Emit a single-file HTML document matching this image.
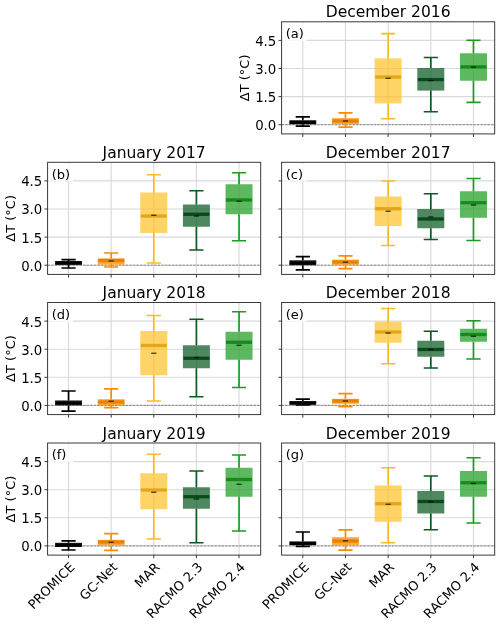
<!DOCTYPE html>
<html lang="en"><head><meta charset="utf-8"><title>Box plots</title>
<style>html,body{margin:0;padding:0;background:#fff}svg{display:block;filter:blur(0.3px)}</style></head>
<body>
<svg width="500" height="624" viewBox="0 0 500 624" font-family='"DejaVu Sans", "Liberation Sans", sans-serif'>
<rect width="500" height="624" fill="#ffffff"/>
<g>
<path d="M302.8 21.8V133.9M345.47 21.8V133.9M388.14 21.8V133.9M430.81 21.8V133.9M473.48 21.8V133.9M281.6 124.7H494.7M281.6 96.61H494.7M281.6 68.51H494.7M281.6 40.42H494.7" stroke="#b0b0b0" stroke-opacity="0.48" stroke-width="1.1" fill="none"/>
<path d="M281.6 124.7H494.7" stroke="#6e6e6e" stroke-width="0.8" stroke-dasharray="2.5 1.05" fill="none"/>
<rect x="289.3" y="120.3" width="27" height="4" fill="#000000" fill-opacity="0.8"/>
<path d="M302.8 120.3V116.8M302.8 124.3V126.1M295.7 116.8H309.9M295.7 126.1H309.9" stroke="#000000" stroke-width="1.7" fill="none"/>
<path d="M289.8 122.3H315.8" stroke="#000000" stroke-width="3.3" fill="none"/>
<path d="M300.2 122.3H305.4" stroke="#000" stroke-opacity="0.75" stroke-width="1.25" fill="none"/>
<rect x="331.97" y="118.1" width="27" height="5.9" fill="#FF8C00" fill-opacity="0.74"/>
<path d="M345.47 118.1V112.8M345.47 124V127.2M338.37 112.8H352.57M338.37 127.2H352.57" stroke="#FF8C00" stroke-width="1.7" fill="none"/>
<path d="M332.47 121H358.47" stroke="#E88200" stroke-width="3.3" fill="none"/>
<path d="M342.87 121H348.07" stroke="#000" stroke-opacity="0.75" stroke-width="1.25" fill="none"/>
<rect x="374.64" y="58.4" width="27" height="45" fill="#FFC023" fill-opacity="0.7"/>
<path d="M388.14 58.4V33.6M388.14 103.4V118.75M381.04 33.6H395.24M381.04 118.75H395.24" stroke="#FEBA25" stroke-width="1.7" fill="none"/>
<path d="M375.14 77H401.14" stroke="#E3A81A" stroke-width="3.3" fill="none"/>
<path d="M385.54 78.25H390.74" stroke="#000" stroke-opacity="0.75" stroke-width="1.25" fill="none"/>
<rect x="417.31" y="68" width="27" height="22.6" fill="#0B5A22" fill-opacity="0.72"/>
<path d="M430.81 68V57.5M430.81 90.6V111.75M423.71 57.5H437.91M423.71 111.75H437.91" stroke="#0B5A22" stroke-width="1.7" fill="none"/>
<path d="M417.81 79.6H443.81" stroke="#084A1A" stroke-width="3.3" fill="none"/>
<path d="M428.21 80.5H433.41" stroke="#000" stroke-opacity="0.75" stroke-width="1.25" fill="none"/>
<rect x="459.98" y="53.25" width="27" height="27.5" fill="#23A127" fill-opacity="0.74"/>
<path d="M473.48 53.25V40.25M473.48 80.75V102.3M466.38 40.25H480.58M466.38 102.3H480.58" stroke="#1F9A22" stroke-width="1.7" fill="none"/>
<path d="M460.48 66.9H486.48" stroke="#178A1B" stroke-width="3.3" fill="none"/>
<path d="M470.88 67.1H476.08" stroke="#000" stroke-opacity="0.75" stroke-width="1.25" fill="none"/>
<rect x="282.4" y="23.2" width="24.8" height="17.9" fill="#fff" fill-opacity="0.8"/>
<text x="285.7" y="38.2" font-size="13" fill="#000">(a)</text>
<rect x="281.6" y="21.8" width="213.1" height="112.1" fill="none" stroke="#303030" stroke-width="0.95"/>
<path d="M302.8 133.9v3.1M345.47 133.9v3.1M388.14 133.9v3.1M430.81 133.9v3.1M473.48 133.9v3.1M281.6 124.7h-3.1M281.6 96.61h-3.1M281.6 68.51h-3.1M281.6 40.42h-3.1" stroke="#303030" stroke-width="0.95" fill="none"/>
<text x="388.15" y="17.4" font-size="15.5" text-anchor="middle" fill="#000">December 2016</text>
<text x="276.3" y="130.1" font-size="13.3" text-anchor="end" fill="#000">0.0</text>
<text x="276.3" y="102.01" font-size="13.3" text-anchor="end" fill="#000">1.5</text>
<text x="276.3" y="73.91" font-size="13.3" text-anchor="end" fill="#000">3.0</text>
<text x="276.3" y="45.82" font-size="13.3" text-anchor="end" fill="#000">4.5</text>
<text transform="translate(248.7 77.85) rotate(-90)" font-size="13" text-anchor="middle" fill="#000">ΔT (°C)</text>
</g>
<g>
<path d="M68.55 162.3V274.4M111.17 162.3V274.4M153.79 162.3V274.4M196.41 162.3V274.4M239.03 162.3V274.4M47.6 265.2H260.7M47.6 237.11H260.7M47.6 209.01H260.7M47.6 180.92H260.7" stroke="#b0b0b0" stroke-opacity="0.48" stroke-width="1.1" fill="none"/>
<path d="M47.6 265.2H260.7" stroke="#6e6e6e" stroke-width="0.8" stroke-dasharray="2.5 1.05" fill="none"/>
<rect x="55.05" y="261" width="27" height="3.8" fill="#000000" fill-opacity="0.8"/>
<path d="M68.55 261V259.6M68.55 264.8V268M61.45 259.6H75.65M61.45 268H75.65" stroke="#000000" stroke-width="1.7" fill="none"/>
<path d="M55.55 263H81.55" stroke="#000000" stroke-width="3.3" fill="none"/>
<path d="M65.95 263H71.15" stroke="#000" stroke-opacity="0.75" stroke-width="1.25" fill="none"/>
<rect x="97.67" y="258.4" width="27" height="6.2" fill="#FF8C00" fill-opacity="0.74"/>
<path d="M111.17 258.4V253M111.17 264.6V267M104.07 253H118.27M104.07 267H118.27" stroke="#FF8C00" stroke-width="1.7" fill="none"/>
<path d="M98.17 260.5H124.17" stroke="#E88200" stroke-width="3.3" fill="none"/>
<path d="M108.57 261H113.77" stroke="#000" stroke-opacity="0.75" stroke-width="1.25" fill="none"/>
<rect x="140.29" y="192.5" width="27" height="40.5" fill="#FFC023" fill-opacity="0.7"/>
<path d="M153.79 192.5V174.75M153.79 233V263M146.69 174.75H160.89M146.69 263H160.89" stroke="#FEBA25" stroke-width="1.7" fill="none"/>
<path d="M140.79 216H166.79" stroke="#E3A81A" stroke-width="3.3" fill="none"/>
<path d="M151.19 215.25H156.39" stroke="#000" stroke-opacity="0.75" stroke-width="1.25" fill="none"/>
<rect x="182.91" y="204.5" width="27" height="22.25" fill="#0B5A22" fill-opacity="0.72"/>
<path d="M196.41 204.5V190.75M196.41 226.75V250M189.31 190.75H203.51M189.31 250H203.51" stroke="#0B5A22" stroke-width="1.7" fill="none"/>
<path d="M183.41 214.25H209.41" stroke="#084A1A" stroke-width="3.3" fill="none"/>
<path d="M193.81 216H199.01" stroke="#000" stroke-opacity="0.75" stroke-width="1.25" fill="none"/>
<rect x="225.53" y="184.25" width="27" height="30" fill="#23A127" fill-opacity="0.74"/>
<path d="M239.03 184.25V172.75M239.03 214.25V240.75M231.93 172.75H246.13M231.93 240.75H246.13" stroke="#1F9A22" stroke-width="1.7" fill="none"/>
<path d="M226.03 200H252.03" stroke="#178A1B" stroke-width="3.3" fill="none"/>
<path d="M236.43 201.25H241.63" stroke="#000" stroke-opacity="0.75" stroke-width="1.25" fill="none"/>
<rect x="48.4" y="163.7" width="24.8" height="17.9" fill="#fff" fill-opacity="0.8"/>
<text x="51.7" y="178.7" font-size="13" fill="#000">(b)</text>
<rect x="47.6" y="162.3" width="213.1" height="112.1" fill="none" stroke="#303030" stroke-width="0.95"/>
<path d="M68.55 274.4v3.1M111.17 274.4v3.1M153.79 274.4v3.1M196.41 274.4v3.1M239.03 274.4v3.1M47.6 265.2h-3.1M47.6 237.11h-3.1M47.6 209.01h-3.1M47.6 180.92h-3.1" stroke="#303030" stroke-width="0.95" fill="none"/>
<text x="154.15" y="157.9" font-size="15.5" text-anchor="middle" fill="#000">January 2017</text>
<text x="42.3" y="270.6" font-size="13.3" text-anchor="end" fill="#000">0.0</text>
<text x="42.3" y="242.51" font-size="13.3" text-anchor="end" fill="#000">1.5</text>
<text x="42.3" y="214.41" font-size="13.3" text-anchor="end" fill="#000">3.0</text>
<text x="42.3" y="186.32" font-size="13.3" text-anchor="end" fill="#000">4.5</text>
<text transform="translate(14.7 218.35) rotate(-90)" font-size="13" text-anchor="middle" fill="#000">ΔT (°C)</text>
</g>
<g>
<path d="M302.8 162.3V274.4M345.47 162.3V274.4M388.14 162.3V274.4M430.81 162.3V274.4M473.48 162.3V274.4M281.6 265.2H494.7M281.6 237.11H494.7M281.6 209.01H494.7M281.6 180.92H494.7" stroke="#b0b0b0" stroke-opacity="0.48" stroke-width="1.1" fill="none"/>
<path d="M281.6 265.2H494.7" stroke="#6e6e6e" stroke-width="0.8" stroke-dasharray="2.5 1.05" fill="none"/>
<rect x="289.3" y="260.2" width="27" height="5" fill="#000000" fill-opacity="0.8"/>
<path d="M302.8 260.2V256.6M302.8 265.2V269.8M295.7 256.6H309.9M295.7 269.8H309.9" stroke="#000000" stroke-width="1.7" fill="none"/>
<path d="M289.8 263H315.8" stroke="#000000" stroke-width="3.3" fill="none"/>
<path d="M300.2 263H305.4" stroke="#000" stroke-opacity="0.75" stroke-width="1.25" fill="none"/>
<rect x="331.97" y="259.6" width="27" height="5.2" fill="#FF8C00" fill-opacity="0.74"/>
<path d="M345.47 259.6V255.8M345.47 264.8V268.6M338.37 255.8H352.57M338.37 268.6H352.57" stroke="#FF8C00" stroke-width="1.7" fill="none"/>
<path d="M332.47 262H358.47" stroke="#E88200" stroke-width="3.3" fill="none"/>
<path d="M342.87 262.2H348.07" stroke="#000" stroke-opacity="0.75" stroke-width="1.25" fill="none"/>
<rect x="374.64" y="196.5" width="27" height="29.5" fill="#FFC023" fill-opacity="0.7"/>
<path d="M388.14 196.5V181M388.14 226V245.5M381.04 181H395.24M381.04 245.5H395.24" stroke="#FEBA25" stroke-width="1.7" fill="none"/>
<path d="M375.14 208.75H401.14" stroke="#E3A81A" stroke-width="3.3" fill="none"/>
<path d="M385.54 211.25H390.74" stroke="#000" stroke-opacity="0.75" stroke-width="1.25" fill="none"/>
<rect x="417.31" y="209" width="27" height="19.25" fill="#0B5A22" fill-opacity="0.72"/>
<path d="M430.81 209V193.75M430.81 228.25V239.5M423.71 193.75H437.91M423.71 239.5H437.91" stroke="#0B5A22" stroke-width="1.7" fill="none"/>
<path d="M417.81 219H443.81" stroke="#084A1A" stroke-width="3.3" fill="none"/>
<path d="M428.21 217H433.41" stroke="#000" stroke-opacity="0.75" stroke-width="1.25" fill="none"/>
<rect x="459.98" y="191.25" width="27" height="26.5" fill="#23A127" fill-opacity="0.74"/>
<path d="M473.48 191.25V178.5M473.48 217.75V240.5M466.38 178.5H480.58M466.38 240.5H480.58" stroke="#1F9A22" stroke-width="1.7" fill="none"/>
<path d="M460.48 202.75H486.48" stroke="#178A1B" stroke-width="3.3" fill="none"/>
<path d="M470.88 205H476.08" stroke="#000" stroke-opacity="0.75" stroke-width="1.25" fill="none"/>
<rect x="282.4" y="163.7" width="24.8" height="17.9" fill="#fff" fill-opacity="0.8"/>
<text x="285.7" y="178.7" font-size="13" fill="#000">(c)</text>
<rect x="281.6" y="162.3" width="213.1" height="112.1" fill="none" stroke="#303030" stroke-width="0.95"/>
<path d="M302.8 274.4v3.1M345.47 274.4v3.1M388.14 274.4v3.1M430.81 274.4v3.1M473.48 274.4v3.1M281.6 265.2h-3.1M281.6 237.11h-3.1M281.6 209.01h-3.1M281.6 180.92h-3.1" stroke="#303030" stroke-width="0.95" fill="none"/>
<text x="388.15" y="157.9" font-size="15.5" text-anchor="middle" fill="#000">December 2017</text>
</g>
<g>
<path d="M68.55 302.5V414.6M111.17 302.5V414.6M153.79 302.5V414.6M196.41 302.5V414.6M239.03 302.5V414.6M47.6 405.4H260.7M47.6 377.3H260.7M47.6 349.21H260.7M47.6 321.12H260.7" stroke="#b0b0b0" stroke-opacity="0.48" stroke-width="1.1" fill="none"/>
<path d="M47.6 405.4H260.7" stroke="#6e6e6e" stroke-width="0.8" stroke-dasharray="2.5 1.05" fill="none"/>
<rect x="55.05" y="400.4" width="27" height="5" fill="#000000" fill-opacity="0.8"/>
<path d="M68.55 400.4V391M68.55 405.4V411.2M61.45 391H75.65M61.45 411.2H75.65" stroke="#000000" stroke-width="1.7" fill="none"/>
<path d="M55.55 403H81.55" stroke="#000000" stroke-width="3.3" fill="none"/>
<path d="M65.95 403H71.15" stroke="#000" stroke-opacity="0.75" stroke-width="1.25" fill="none"/>
<rect x="97.67" y="399.2" width="27" height="5.8" fill="#FF8C00" fill-opacity="0.74"/>
<path d="M111.17 399.2V388.8M111.17 405V407.6M104.07 388.8H118.27M104.07 407.6H118.27" stroke="#FF8C00" stroke-width="1.7" fill="none"/>
<path d="M98.17 402H124.17" stroke="#E88200" stroke-width="3.3" fill="none"/>
<path d="M108.57 401.2H113.77" stroke="#000" stroke-opacity="0.75" stroke-width="1.25" fill="none"/>
<rect x="140.29" y="331" width="27" height="44.25" fill="#FFC023" fill-opacity="0.7"/>
<path d="M153.79 331V315.5M153.79 375.25V401M146.69 315.5H160.89M146.69 401H160.89" stroke="#FEBA25" stroke-width="1.7" fill="none"/>
<path d="M140.79 345.5H166.79" stroke="#E3A81A" stroke-width="3.3" fill="none"/>
<path d="M151.19 353.25H156.39" stroke="#000" stroke-opacity="0.75" stroke-width="1.25" fill="none"/>
<rect x="182.91" y="345.25" width="27" height="23" fill="#0B5A22" fill-opacity="0.72"/>
<path d="M196.41 345.25V319.25M196.41 368.25V396.75M189.31 319.25H203.51M189.31 396.75H203.51" stroke="#0B5A22" stroke-width="1.7" fill="none"/>
<path d="M183.41 358.25H209.41" stroke="#084A1A" stroke-width="3.3" fill="none"/>
<path d="M193.81 357.5H199.01" stroke="#000" stroke-opacity="0.75" stroke-width="1.25" fill="none"/>
<rect x="225.53" y="331.75" width="27" height="28" fill="#23A127" fill-opacity="0.74"/>
<path d="M239.03 331.75V311.75M239.03 359.75V387.5M231.93 311.75H246.13M231.93 387.5H246.13" stroke="#1F9A22" stroke-width="1.7" fill="none"/>
<path d="M226.03 342.25H252.03" stroke="#178A1B" stroke-width="3.3" fill="none"/>
<path d="M236.43 345.25H241.63" stroke="#000" stroke-opacity="0.75" stroke-width="1.25" fill="none"/>
<rect x="48.4" y="303.9" width="24.8" height="17.9" fill="#fff" fill-opacity="0.8"/>
<text x="51.7" y="318.9" font-size="13" fill="#000">(d)</text>
<rect x="47.6" y="302.5" width="213.1" height="112.1" fill="none" stroke="#303030" stroke-width="0.95"/>
<path d="M68.55 414.6v3.1M111.17 414.6v3.1M153.79 414.6v3.1M196.41 414.6v3.1M239.03 414.6v3.1M47.6 405.4h-3.1M47.6 377.3h-3.1M47.6 349.21h-3.1M47.6 321.12h-3.1" stroke="#303030" stroke-width="0.95" fill="none"/>
<text x="154.15" y="298.1" font-size="15.5" text-anchor="middle" fill="#000">January 2018</text>
<text x="42.3" y="410.8" font-size="13.3" text-anchor="end" fill="#000">0.0</text>
<text x="42.3" y="382.7" font-size="13.3" text-anchor="end" fill="#000">1.5</text>
<text x="42.3" y="354.61" font-size="13.3" text-anchor="end" fill="#000">3.0</text>
<text x="42.3" y="326.51" font-size="13.3" text-anchor="end" fill="#000">4.5</text>
<text transform="translate(14.7 358.55) rotate(-90)" font-size="13" text-anchor="middle" fill="#000">ΔT (°C)</text>
</g>
<g>
<path d="M302.8 302.5V414.6M345.47 302.5V414.6M388.14 302.5V414.6M430.81 302.5V414.6M473.48 302.5V414.6M281.6 405.4H494.7M281.6 377.3H494.7M281.6 349.21H494.7M281.6 321.12H494.7" stroke="#b0b0b0" stroke-opacity="0.48" stroke-width="1.1" fill="none"/>
<path d="M281.6 405.4H494.7" stroke="#6e6e6e" stroke-width="0.8" stroke-dasharray="2.5 1.05" fill="none"/>
<rect x="289.3" y="401" width="27" height="3.6" fill="#000000" fill-opacity="0.8"/>
<path d="M302.8 401V399.2M302.8 404.6V405M295.7 399.2H309.9M295.7 405H309.9" stroke="#000000" stroke-width="1.7" fill="none"/>
<path d="M289.8 403H315.8" stroke="#000000" stroke-width="3.3" fill="none"/>
<path d="M300.2 403H305.4" stroke="#000" stroke-opacity="0.75" stroke-width="1.25" fill="none"/>
<rect x="331.97" y="398.8" width="27" height="5" fill="#FF8C00" fill-opacity="0.74"/>
<path d="M345.47 398.8V393.6M345.47 403.8V406.6M338.37 393.6H352.57M338.37 406.6H352.57" stroke="#FF8C00" stroke-width="1.7" fill="none"/>
<path d="M332.47 401H358.47" stroke="#E88200" stroke-width="3.3" fill="none"/>
<path d="M342.87 401H348.07" stroke="#000" stroke-opacity="0.75" stroke-width="1.25" fill="none"/>
<rect x="374.64" y="321.75" width="27" height="21" fill="#FFC023" fill-opacity="0.7"/>
<path d="M388.14 321.75V308.5M388.14 342.75V363.75M381.04 308.5H395.24M381.04 363.75H395.24" stroke="#FEBA25" stroke-width="1.7" fill="none"/>
<path d="M375.14 332H401.14" stroke="#E3A81A" stroke-width="3.3" fill="none"/>
<path d="M385.54 333H390.74" stroke="#000" stroke-opacity="0.75" stroke-width="1.25" fill="none"/>
<rect x="417.31" y="340.75" width="27" height="16" fill="#0B5A22" fill-opacity="0.72"/>
<path d="M430.81 340.75V331.25M430.81 356.75V368M423.71 331.25H437.91M423.71 368H437.91" stroke="#0B5A22" stroke-width="1.7" fill="none"/>
<path d="M417.81 349.5H443.81" stroke="#084A1A" stroke-width="3.3" fill="none"/>
<path d="M428.21 349.5H433.41" stroke="#000" stroke-opacity="0.75" stroke-width="1.25" fill="none"/>
<rect x="459.98" y="328.75" width="27" height="13" fill="#23A127" fill-opacity="0.74"/>
<path d="M473.48 328.75V320.75M473.48 341.75V359M466.38 320.75H480.58M466.38 359H480.58" stroke="#1F9A22" stroke-width="1.7" fill="none"/>
<path d="M460.48 334.5H486.48" stroke="#178A1B" stroke-width="3.3" fill="none"/>
<path d="M470.88 336.25H476.08" stroke="#000" stroke-opacity="0.75" stroke-width="1.25" fill="none"/>
<rect x="282.4" y="303.9" width="24.8" height="17.9" fill="#fff" fill-opacity="0.8"/>
<text x="285.7" y="318.9" font-size="13" fill="#000">(e)</text>
<rect x="281.6" y="302.5" width="213.1" height="112.1" fill="none" stroke="#303030" stroke-width="0.95"/>
<path d="M302.8 414.6v3.1M345.47 414.6v3.1M388.14 414.6v3.1M430.81 414.6v3.1M473.48 414.6v3.1M281.6 405.4h-3.1M281.6 377.3h-3.1M281.6 349.21h-3.1M281.6 321.12h-3.1" stroke="#303030" stroke-width="0.95" fill="none"/>
<text x="388.15" y="298.1" font-size="15.5" text-anchor="middle" fill="#000">December 2018</text>
</g>
<g>
<path d="M68.55 443V555.1M111.17 443V555.1M153.79 443V555.1M196.41 443V555.1M239.03 443V555.1M47.6 545.9H260.7M47.6 517.8H260.7M47.6 489.71H260.7M47.6 461.62H260.7" stroke="#b0b0b0" stroke-opacity="0.48" stroke-width="1.1" fill="none"/>
<path d="M47.6 545.9H260.7" stroke="#6e6e6e" stroke-width="0.8" stroke-dasharray="2.5 1.05" fill="none"/>
<rect x="55.05" y="542.8" width="27" height="4.2" fill="#000000" fill-opacity="0.8"/>
<path d="M68.55 542.8V540.8M68.55 547V550M61.45 540.8H75.65M61.45 550H75.65" stroke="#000000" stroke-width="1.7" fill="none"/>
<path d="M55.55 545H81.55" stroke="#000000" stroke-width="3.3" fill="none"/>
<path d="M65.95 545H71.15" stroke="#000" stroke-opacity="0.75" stroke-width="1.25" fill="none"/>
<rect x="97.67" y="539.8" width="27" height="5.6" fill="#FF8C00" fill-opacity="0.74"/>
<path d="M111.17 539.8V533.6M111.17 545.4V550.4M104.07 533.6H118.27M104.07 550.4H118.27" stroke="#FF8C00" stroke-width="1.7" fill="none"/>
<path d="M98.17 542H124.17" stroke="#E88200" stroke-width="3.3" fill="none"/>
<path d="M108.57 542.2H113.77" stroke="#000" stroke-opacity="0.75" stroke-width="1.25" fill="none"/>
<rect x="140.29" y="473.25" width="27" height="36" fill="#FFC023" fill-opacity="0.7"/>
<path d="M153.79 473.25V454.25M153.79 509.25V539M146.69 454.25H160.89M146.69 539H160.89" stroke="#FEBA25" stroke-width="1.7" fill="none"/>
<path d="M140.79 490H166.79" stroke="#E3A81A" stroke-width="3.3" fill="none"/>
<path d="M151.19 492.25H156.39" stroke="#000" stroke-opacity="0.75" stroke-width="1.25" fill="none"/>
<rect x="182.91" y="487.25" width="27" height="21.5" fill="#0B5A22" fill-opacity="0.72"/>
<path d="M196.41 487.25V471M196.41 508.75V542.75M189.31 471H203.51M189.31 542.75H203.51" stroke="#0B5A22" stroke-width="1.7" fill="none"/>
<path d="M183.41 496.75H209.41" stroke="#084A1A" stroke-width="3.3" fill="none"/>
<path d="M193.81 499H199.01" stroke="#000" stroke-opacity="0.75" stroke-width="1.25" fill="none"/>
<rect x="225.53" y="467.75" width="27" height="29" fill="#23A127" fill-opacity="0.74"/>
<path d="M239.03 467.75V455M239.03 496.75V531M231.93 455H246.13M231.93 531H246.13" stroke="#1F9A22" stroke-width="1.7" fill="none"/>
<path d="M226.03 479.5H252.03" stroke="#178A1B" stroke-width="3.3" fill="none"/>
<path d="M236.43 484.25H241.63" stroke="#000" stroke-opacity="0.75" stroke-width="1.25" fill="none"/>
<rect x="48.4" y="444.4" width="24.8" height="17.9" fill="#fff" fill-opacity="0.8"/>
<text x="51.7" y="459.4" font-size="13" fill="#000">(f)</text>
<rect x="47.6" y="443" width="213.1" height="112.1" fill="none" stroke="#303030" stroke-width="0.95"/>
<path d="M68.55 555.1v3.1M111.17 555.1v3.1M153.79 555.1v3.1M196.41 555.1v3.1M239.03 555.1v3.1M47.6 545.9h-3.1M47.6 517.8h-3.1M47.6 489.71h-3.1M47.6 461.62h-3.1" stroke="#303030" stroke-width="0.95" fill="none"/>
<text x="154.15" y="438.6" font-size="15.5" text-anchor="middle" fill="#000">January 2019</text>
<text x="42.3" y="551.3" font-size="13.3" text-anchor="end" fill="#000">0.0</text>
<text x="42.3" y="523.2" font-size="13.3" text-anchor="end" fill="#000">1.5</text>
<text x="42.3" y="495.11" font-size="13.3" text-anchor="end" fill="#000">3.0</text>
<text x="42.3" y="467.01" font-size="13.3" text-anchor="end" fill="#000">4.5</text>
<text transform="translate(14.7 499.05) rotate(-90)" font-size="13" text-anchor="middle" fill="#000">ΔT (°C)</text>
<text transform="translate(68.95 561.5) rotate(-45)" y="9.2" font-size="13" text-anchor="end" fill="#000">PROMICE</text>
<text transform="translate(111.57 561.5) rotate(-45)" y="9.2" font-size="13" text-anchor="end" fill="#000">GC-Net</text>
<text transform="translate(154.19 561.5) rotate(-45)" y="9.2" font-size="13" text-anchor="end" fill="#000">MAR</text>
<text transform="translate(196.81 561.5) rotate(-45)" y="9.2" font-size="13" text-anchor="end" fill="#000">RACMO 2.3</text>
<text transform="translate(239.43 561.5) rotate(-45)" y="9.2" font-size="13" text-anchor="end" fill="#000">RACMO 2.4</text>
</g>
<g>
<path d="M302.8 443V555.1M345.47 443V555.1M388.14 443V555.1M430.81 443V555.1M473.48 443V555.1M281.6 545.9H494.7M281.6 517.8H494.7M281.6 489.71H494.7M281.6 461.62H494.7" stroke="#b0b0b0" stroke-opacity="0.48" stroke-width="1.1" fill="none"/>
<path d="M281.6 545.9H494.7" stroke="#6e6e6e" stroke-width="0.8" stroke-dasharray="2.5 1.05" fill="none"/>
<rect x="289.3" y="541.4" width="27" height="3.6" fill="#000000" fill-opacity="0.8"/>
<path d="M302.8 541.4V532M302.8 545V546.4M295.7 532H309.9M295.7 546.4H309.9" stroke="#000000" stroke-width="1.7" fill="none"/>
<path d="M289.8 543.5H315.8" stroke="#000000" stroke-width="3.3" fill="none"/>
<path d="M300.2 543.5H305.4" stroke="#000" stroke-opacity="0.75" stroke-width="1.25" fill="none"/>
<rect x="331.97" y="537.2" width="27" height="8" fill="#FF8C00" fill-opacity="0.74"/>
<path d="M345.47 537.2V529.8M345.47 545.2V550.2M338.37 529.8H352.57M338.37 550.2H352.57" stroke="#FF8C00" stroke-width="1.7" fill="none"/>
<path d="M332.47 541H358.47" stroke="#E88200" stroke-width="3.3" fill="none"/>
<path d="M342.87 540.8H348.07" stroke="#000" stroke-opacity="0.75" stroke-width="1.25" fill="none"/>
<rect x="374.64" y="485.5" width="27" height="36.25" fill="#FFC023" fill-opacity="0.7"/>
<path d="M388.14 485.5V467.75M388.14 521.75V542.75M381.04 467.75H395.24M381.04 542.75H395.24" stroke="#FEBA25" stroke-width="1.7" fill="none"/>
<path d="M375.14 503.75H401.14" stroke="#E3A81A" stroke-width="3.3" fill="none"/>
<path d="M385.54 504.25H390.74" stroke="#000" stroke-opacity="0.75" stroke-width="1.25" fill="none"/>
<rect x="417.31" y="491" width="27" height="22.5" fill="#0B5A22" fill-opacity="0.72"/>
<path d="M430.81 491V476M430.81 513.5V529.75M423.71 476H437.91M423.71 529.75H437.91" stroke="#0B5A22" stroke-width="1.7" fill="none"/>
<path d="M417.81 501.5H443.81" stroke="#084A1A" stroke-width="3.3" fill="none"/>
<path d="M428.21 501.75H433.41" stroke="#000" stroke-opacity="0.75" stroke-width="1.25" fill="none"/>
<rect x="459.98" y="471" width="27" height="25.75" fill="#23A127" fill-opacity="0.74"/>
<path d="M473.48 471V457.75M473.48 496.75V523M466.38 457.75H480.58M466.38 523H480.58" stroke="#1F9A22" stroke-width="1.7" fill="none"/>
<path d="M460.48 482.75H486.48" stroke="#178A1B" stroke-width="3.3" fill="none"/>
<path d="M470.88 483.5H476.08" stroke="#000" stroke-opacity="0.75" stroke-width="1.25" fill="none"/>
<rect x="282.4" y="444.4" width="24.8" height="17.9" fill="#fff" fill-opacity="0.8"/>
<text x="285.7" y="459.4" font-size="13" fill="#000">(g)</text>
<rect x="281.6" y="443" width="213.1" height="112.1" fill="none" stroke="#303030" stroke-width="0.95"/>
<path d="M302.8 555.1v3.1M345.47 555.1v3.1M388.14 555.1v3.1M430.81 555.1v3.1M473.48 555.1v3.1M281.6 545.9h-3.1M281.6 517.8h-3.1M281.6 489.71h-3.1M281.6 461.62h-3.1" stroke="#303030" stroke-width="0.95" fill="none"/>
<text x="388.15" y="438.6" font-size="15.5" text-anchor="middle" fill="#000">December 2019</text>
<text transform="translate(303.2 561.5) rotate(-45)" y="9.2" font-size="13" text-anchor="end" fill="#000">PROMICE</text>
<text transform="translate(345.87 561.5) rotate(-45)" y="9.2" font-size="13" text-anchor="end" fill="#000">GC-Net</text>
<text transform="translate(388.54 561.5) rotate(-45)" y="9.2" font-size="13" text-anchor="end" fill="#000">MAR</text>
<text transform="translate(431.21 561.5) rotate(-45)" y="9.2" font-size="13" text-anchor="end" fill="#000">RACMO 2.3</text>
<text transform="translate(473.88 561.5) rotate(-45)" y="9.2" font-size="13" text-anchor="end" fill="#000">RACMO 2.4</text>
</g>
</svg>
</body></html>
